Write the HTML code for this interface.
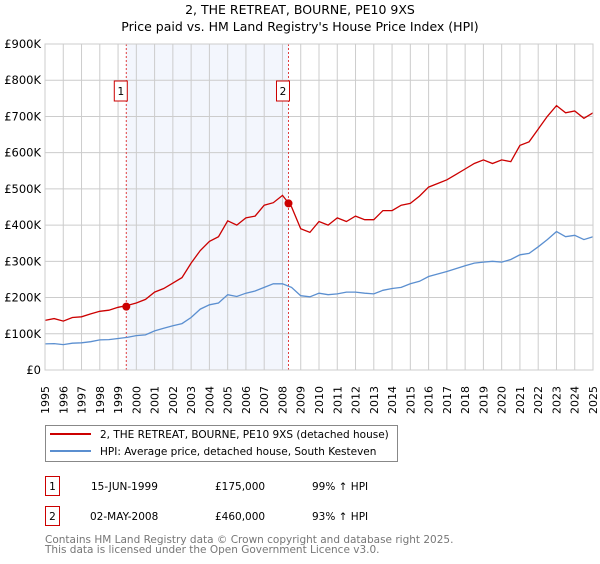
<!DOCTYPE html>
<html><head><meta charset="utf-8"><style>
body{margin:0;background:#fff;font-family:"DejaVu Sans","Liberation Sans",sans-serif;}
svg text{font-family:"DejaVu Sans","Liberation Sans",sans-serif;}
</style></head><body>
<svg id="chart" width="600" height="560" xmlns="http://www.w3.org/2000/svg">
<text x="300" y="14" text-anchor="middle" font-size="12.5" fill="#000">2, THE RETREAT, BOURNE, PE10 9XS</text>
<text x="300" y="31" text-anchor="middle" font-size="12.5" fill="#000">Price paid vs. HM Land Registry's House Price Index (HPI)</text>
<g id="plot"></g>
<rect x="45.5" y="425.5" width="352" height="36" fill="#fff" stroke="#888"/>
<line x1="50" y1="434" x2="91" y2="434" stroke="#cc0000" stroke-width="2"/>
<text x="100" y="438" font-size="10.5">2, THE RETREAT, BOURNE, PE10 9XS (detached house)</text>
<line x1="50" y1="451" x2="91" y2="451" stroke="#5b8fd0" stroke-width="2"/>
<text x="100" y="455" font-size="10.5">HPI: Average price, detached house, South Kesteven</text>
<g>
<rect x="45.5" y="476.5" width="14" height="19" fill="#fff" stroke="#cc0000"/>
<text x="52.5" y="490" font-size="10.5" text-anchor="middle">1</text>
<text x="91" y="490" font-size="10.5">15-JUN-1999</text>
<text x="215" y="490" font-size="10.5">£175,000</text>
<text x="312" y="490" font-size="10.5">99% ↑ HPI</text>
</g>
<g>
<rect x="45.5" y="506.5" width="14" height="19" fill="#fff" stroke="#cc0000"/>
<text x="52.5" y="520" font-size="10.5" text-anchor="middle">2</text>
<text x="90" y="520" font-size="10.5">02-MAY-2008</text>
<text x="215" y="520" font-size="10.5">£460,000</text>
<text x="312" y="520" font-size="10.5">93% ↑ HPI</text>
</g>
<text x="45" y="543" font-size="10.5" fill="#777">Contains HM Land Registry data © Crown copyright and database right 2025.</text>
<text x="45" y="553" font-size="10.5" fill="#777">This data is licensed under the Open Government Licence v3.0.</text>
</svg>
<script>
const years = [];
for (let y = 1995; y <= 2025.001; y += 0.5) years.push(y);
const hpiValues = [72,73,70,74,75,78,83,84,87,90,95,97,108,115,122,128,145,168,180,185,208,203,212,218,228,238,238,228,205,202,212,208,210,215,215,212,210,220,225,228,238,245,258,265,272,280,288,295,298,300,298,305,318,322,340,360,382,368,372,360,368];
const propValues = [137,142,135,145,147,155,162,165,173,178,185,195,215,225,240,255,295,330,355,368,412,400,420,425,455,462,482,450,390,380,410,400,420,410,425,415,415,440,440,455,460,480,505,515,525,540,555,570,580,570,580,575,620,630,665,700,730,710,715,695,710];
const saleYears = [1999.45, 2008.33];
const saleValues = [175, 460];
const saleLabels = ["1","2"];
const yTicks = [0,100,200,300,400,500,600,700,800,900];
const yTickLabels = ["£0","£100K","£200K","£300K","£400K","£500K","£600K","£700K","£800K","£900K"];
const xTicks = [];
for (let y = 1995; y <= 2025; y++) xTicks.push(y);

const X0=45, X1=593, Y0=370, Y1=44;
const xs = y => X0 + (y-1995)/30*(X1-X0);
const ys = v => Y0 - v/900*(Y0-Y1);
const NS="http://www.w3.org/2000/svg";
const g=document.getElementById('plot');
function mk(t,a){const e=document.createElementNS(NS,t);for(const k in a)e.setAttribute(k,a[k]);g.appendChild(e);return e;}

let sh=mk('rect',{x:xs(saleYears[0]),y:Y1,width:xs(saleYears[1])-xs(saleYears[0]),height:Y0-Y1,fill:'#f3f6fd'});


xTicks.forEach(t=>{
  const l=mk('line',{x1:xs(t),x2:xs(t),y1:Y1,y2:Y0,stroke:'#ccc','stroke-width':1});
  
  
  const tx=mk('text',{x:0,y:0,'font-size':'11',transform:`translate(${xs(t)+4},${Y0+44}) rotate(-90)`});
  tx.textContent=t;
  
  
});
yTicks.forEach((t,i)=>{
  const l=mk('line',{x1:X0,x2:X1,y1:ys(t),y2:ys(t),stroke:'#ccc','stroke-width':1});
  
  
  const tx=mk('text',{x:X0-4,y:ys(t)+4,'font-size':'11.5','text-anchor':'end'});
  tx.textContent=yTickLabels[i];
  
  
});
saleYears.forEach((s,i)=>{
  const l=mk('line',{x1:xs(s),x2:xs(s),y1:Y1,y2:Y0,stroke:'#e04040','stroke-width':1,'stroke-dasharray':'2,2'});
  
  
  const r=mk('rect',{x:xs(s)-12,y:81,width:13,height:20,fill:'#fff',stroke:'#cc0000'});
  
  
  const tx=mk('text',{x:xs(s)-5.5,y:95,'font-size':'10.5','text-anchor':'middle'});
  tx.textContent=saleLabels[i];
  
  
});
const pts=v=>years.map((y,i)=>xs(y).toFixed(1)+','+ys(v[i]).toFixed(1)).join(' ');
const hl=mk('polyline',{points:pts(hpiValues),fill:'none',stroke:'#5b8fd0','stroke-width':1.3});


const pl=mk('polyline',{points:pts(propValues),fill:'none',stroke:'#cc0000','stroke-width':1.3});


saleYears.forEach((s,i)=>{
  const c=mk('circle',{cx:xs(s),cy:ys(saleValues[i]),r:4,fill:'#cc0000'});
  
  
});
const fr=mk('rect',{x:X0,y:Y1,width:X1-X0,height:Y0-Y1,fill:'none',stroke:'#ccc'});


</script>
</body></html>
